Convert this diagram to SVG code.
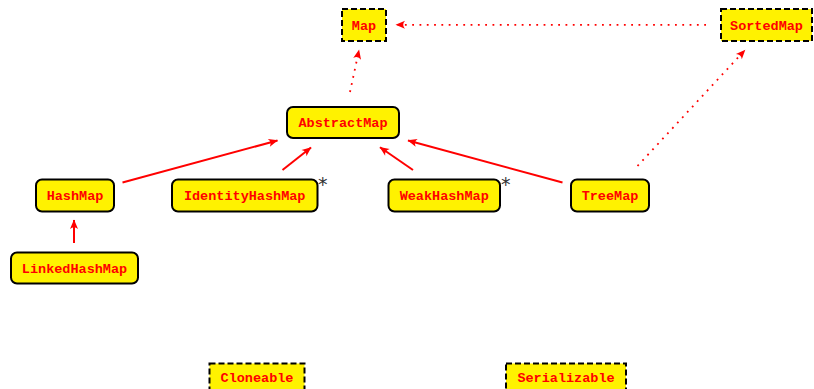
<svg xmlns="http://www.w3.org/2000/svg" width="814" height="389" viewBox="0 0 814 389">
<style>
.box{fill:#fff200;stroke:#000;stroke-width:2}
.iface{fill:#fff200;stroke:#000;stroke-width:2;stroke-dasharray:6 3}
.lbl{font-family:"Liberation Mono","DejaVu Sans Mono",monospace;font-weight:bold;font-size:13.5px;fill:#ff0000;text-anchor:middle}
.star{font-family:"DejaVu Sans",sans-serif;font-size:19px;fill:#333}
.solid{stroke:#ff0000;stroke-width:2;fill:none;marker-end:url(#ah)}
.dot{stroke:#ff0000;stroke-width:1.8;fill:none;stroke-dasharray:1.8 5.5;marker-end:url(#ah)}
</style>
<defs>
<marker id="ah" markerUnits="userSpaceOnUse" markerWidth="14" markerHeight="12" viewBox="-11 -6 12 12" refX="0" refY="0" orient="auto">
<path d="M0.5,0 L-9,-4 Q-5.5,0 -9,4 Z" fill="#ff0000"/>
</marker>
</defs>
<g id="connectors">
<line class="solid" x1="122.5" y1="182.5" x2="277.5" y2="140.5"/>
<line class="solid" x1="282.5" y1="170" x2="311" y2="147.5"/>
<line class="solid" x1="413" y1="170" x2="380" y2="147.3"/>
<line class="solid" x1="562.5" y1="182.5" x2="408" y2="140.5"/>
<line class="solid" x1="74" y1="243" x2="74" y2="220"/>
<line class="dot" x1="350" y1="92" x2="359" y2="50"/>
<line class="dot" x1="637.5" y1="166" x2="745" y2="50"/>
<line class="dot" x1="706" y1="24.8" x2="396" y2="24.8"/>
</g>
<g id="Map"><rect class="iface" x="342" y="9" width="44" height="32"/><text class="lbl" x="364" y="29.5">Map</text></g>
<g id="SortedMap"><rect class="iface" x="721" y="9" width="91" height="32"/><text class="lbl" x="766.5" y="29.5">SortedMap</text></g>
<g id="AbstractMap"><rect class="box" x="287" y="107" width="112" height="31" rx="6"/><text class="lbl" x="343" y="127">AbstractMap</text></g>
<g id="HashMap"><rect class="box" x="36" y="179.5" width="78" height="32" rx="6"/><text class="lbl" x="75" y="200">HashMap</text></g>
<g id="IdentityHashMap"><rect class="box" x="172" y="179.5" width="145.5" height="32" rx="6"/><text class="lbl" x="244.7" y="200">IdentityHashMap</text><text class="star" x="318" y="190.5">*</text></g>
<g id="WeakHashMap"><rect class="box" x="388.5" y="179.5" width="111.5" height="32" rx="6"/><text class="lbl" x="444.2" y="200">WeakHashMap</text><text class="star" x="501" y="190.5">*</text></g>
<g id="TreeMap"><rect class="box" x="571" y="179.5" width="78" height="32" rx="6"/><text class="lbl" x="610" y="200">TreeMap</text></g>
<g id="LinkedHashMap"><rect class="box" x="11" y="252.5" width="127" height="31" rx="6"/><text class="lbl" x="74.5" y="272.5">LinkedHashMap</text></g>
<g id="Cloneable"><rect class="iface" x="209.5" y="363.5" width="95" height="32"/><text class="lbl" x="257" y="382">Cloneable</text></g>
<g id="Serializable"><rect class="iface" x="506" y="363.5" width="120" height="32"/><text class="lbl" x="566" y="382">Serializable</text></g>
</svg>
